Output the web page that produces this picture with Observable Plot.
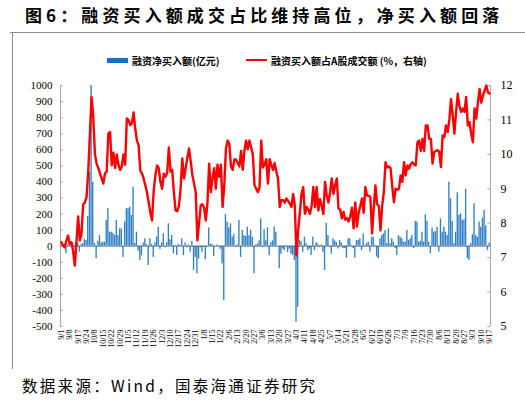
<!DOCTYPE html>
<html>
<head>
<meta charset="utf-8">
<script src="https://cdn.jsdelivr.net/npm/d3@7"></script>
<script src="https://cdn.jsdelivr.net/npm/@observablehq/plot@0.6"></script>
<style>
  html, body { margin: 0; padding: 0; background: #fff; }
  #wrap { position: relative; width: 525px; height: 401px; overflow: hidden; font-family: "Noto Sans CJK SC", sans-serif; }
  #title { position: absolute; left: 25px; top: 2px; font-size: 17px; font-weight: bold; letter-spacing: 4.1px; color: #000; white-space: nowrap; }
  #topline { position: absolute; left: 10px; top: 32px; width: 515px; height: 1px; background: #8c8c8c; }
  #leftline { position: absolute; left: 12px; top: 32px; width: 1px; height: 337px; background: #8c8c8c; }
  #legend { position: absolute; top: 53px; left: 0; width: 525px; font-size: 10px; font-weight: bold; color: #000; }
  .lg { position: absolute; top: 0; white-space: nowrap; display: flex; align-items: center; height: 14px; }
  .sw { display: inline-block; width: 21px; margin-right: 4px; }
  #chart { position: absolute; left: 0; top: 70px; }
  #chart svg text { font-family: "Liberation Serif", serif; }
  #source { position: absolute; left: 22px; top: 374px; font-size: 15.5px; letter-spacing: 2.3px; color: #000; white-space: nowrap; font-family: "Noto Sans CJK SC", sans-serif; }
</style>
</head>
<body>
<div id="wrap">
  <div id="title">图6：融资买入额成交占比维持高位，净买入额回落</div>
  <div id="topline"></div>
  <div id="leftline"></div>
  <div id="legend">
    <div class="lg" style="left:107px"><span class="sw" style="height:5px;background:#1a6fc0"></span>融资净买入额(亿元)</div>
    <div class="lg" style="left:246px"><span class="sw" style="height:2.5px;background:#ff0000"></span>融资买入额占A股成交额 (%，右轴)</div>
  </div>
  <div id="chart"></div>
  <div id="source">数据来源：Wind，国泰海通证券研究</div>
</div>
<script>
// Tick labels (every 5 trading days)
const tickLabels = ["9/1","9/8","9/17","9/24","10/8","10/15","10/22","10/29","11/5","11/12","11/19","11/26","12/3","12/10","12/17","12/24","12/31","1/8","1/15","1/22","2/6","2/13","2/20","2/27","3/6","3/13","3/20","3/27","4/3","4/11","4/18","4/25","5/7","5/14","5/21","5/28","6/5","6/12","6/19","6/26","7/3","7/9","7/16","7/23","7/30","8/6","8/13","8/20","8/27","9/3","9/10","9/17"];

// 融资净买入额 (亿元), daily
const netBuy = [
15,5,10,-47,8,15,5,15,-10,15,
20,-37,10,15,40,35,185,460,1000,398,
17,-78,30,66,20,25,25,160,233,87,
87,80,66,160,66,108,108,-70,150,233,
233,243,191,367,17,87,-30,-89,-60,20,
46,10,-120,46,10,-70,20,56,118,-20,
20,77,-10,20,139,40,66,-47,5,-58,
10,5,46,-58,20,-10,8,-38,30,-151,
-70,-172,-80,-10,-38,-5,-85,-5,114,12,
12,-65,2,8,-5,-20,-110,-338,197,150,
114,139,56,72,-5,8,160,-70,97,66,
60,118,66,100,55,-172,8,12,33,170,
-8,102,33,114,-60,22,33,120,87,2,
-140,-50,-18,-28,-5,-40,-18,-50,-58,-89,
-473,-380,35,30,-38,56,15,-28,-18,-58,
56,-28,22,12,-8,8,-38,-151,143,66,
-5,-50,46,33,22,-18,35,20,-15,-15,
-75,46,46,5,-15,-75,35,35,46,-27,
77,5,15,25,-37,56,56,5,-68,-78,
46,66,77,97,15,108,15,46,25,-15,
-58,66,56,46,25,25,97,35,46,66,
-15,154,150,25,30,87,25,195,154,25,
-47,112,87,91,118,-37,170,87,118,87,
66,398,295,154,15,87,332,191,201,160,
165,353,-78,-89,15,71,264,66,56,150,
118,175,222,125,-27,20
];

// 融资买入额占A股成交额 (%), daily
const ratio = [
7.45,7.35,7.3,7.5,7.64,7.4,7.45,7.2,6.77,7.45,
8.2,7.5,7.7,8.55,8.6,8.75,9.5,10.6,11.66,11.1,
10.0,9.73,9.6,9.45,9.3,9.15,9.45,9.5,10.6,10.65,
9.68,10.05,9.6,10.0,9.7,9.55,9.65,10.0,9.7,11.04,
11.0,10.85,10.9,11.22,10.75,10.4,10.26,9.53,9.45,9.3,
9.1,8.9,8.6,8.3,8.08,8.95,9.4,9.68,9.6,9.2,
9.0,9.44,9.35,9.45,10.2,9.5,9.55,8.9,8.37,8.35,
8.5,9.0,9.88,9.3,9.6,9.9,10.17,9.8,9.4,9.15,
8.9,7.5,8.0,8.52,8.55,8.45,8.08,8.6,9.73,8.9,
9.3,9.6,9.0,9.7,9.35,9.7,8.47,9.1,10.17,10.4,
10.3,9.65,9.55,9.85,9.85,9.75,9.65,10.1,9.55,10.11,
10.4,10.15,10.4,10.2,10.0,9.1,9.0,8.9,9.05,10.4,
9.62,9.7,9.86,9.15,9.86,9.7,9.55,9.75,9.5,9.3,
8.47,8.67,8.67,8.6,8.72,8.65,8.57,8.47,8.85,8.5,
7.06,7.8,8.3,8.85,9.05,8.27,8.47,8.4,8.27,8.5,
9.05,8.47,9.05,8.37,8.7,8.5,8.27,9.2,8.82,8.6,
8.9,9.3,8.85,9.1,9.3,8.43,8.4,8.14,8.33,8.1,
8.15,8.05,8.2,8.45,7.85,8.6,7.9,8.3,8.5,8.72,
8.3,9.05,8.8,8.8,8.75,7.7,8.45,9.1,8.55,8.5,
7.79,8.5,8.9,9.77,9.62,9.65,9.6,9.07,8.61,9.0,
8.97,9.0,9.39,9.2,9.77,9.39,9.68,9.58,9.72,9.77,
9.7,9.68,10.35,10.4,10.1,10.45,10.1,10.84,10.84,10.45,
10.45,9.73,10.07,10.1,10.12,10.07,9.63,10.55,10.5,10.84,
10.65,11.0,11.61,11.13,10.6,11.23,11.76,11.4,11.23,11.33,
11.23,11.67,10.84,10.94,10.6,10.35,11.33,11.04,11.5,11.9,
11.5,11.7,11.85,12.0,11.8,11.77
];

const leftTicks = d3.range(-500, 1001, 100);
const rightTicks = d3.range(5, 13, 1);

const N = netBuy.length;
const idx = d3.range(N);
const LMIN = -500, LMAX = 1000, RMIN = 5, RMAX = 12;
const toLeft = r => (r - RMIN) * (LMAX - LMIN) / (RMAX - RMIN) + LMIN;
const toRight = v => (v - LMIN) * (RMAX - RMIN) / (LMAX - LMIN) + RMIN;
const x0 = -0.5, x1 = N - 0.5;
const serif = "'Liberation Serif', serif";

const chart = Plot.plot({
  width: 525,
  height: 286,
  marginTop: 15,
  marginBottom: 30,
  marginLeft: 60,
  marginRight: 35,
  x: {domain: [x0, x1], axis: null},
  y: {domain: [LMIN, LMAX], axis: null},
  style: {fontFamily: serif, fontSize: "11px", color: "#000", background: "transparent", overflow: "visible"},
  marks: [
    Plot.rectY(idx, {x1: i => i - 0.4, x2: i => i + 0.4, y1: 0, y2: i => netBuy[i], fill: "#2f7fc6"}),
    Plot.ruleY([0], {stroke: "#4a5a6a", strokeWidth: 0.8}),
    Plot.ruleX([x0, x1], {y1: LMIN, y2: LMAX, stroke: "#a6a6a6", strokeWidth: 1}),
    Plot.ruleY(leftTicks, {x1: x0, x2: x0 + 1.6, stroke: "#a6a6a6"}),
    Plot.ruleY(rightTicks.map(toLeft), {x1: x1 - 1.6, x2: x1, stroke: "#a6a6a6"}),
    Plot.lineY(idx, {x: i => i, y: i => toLeft(ratio[i]), stroke: "#ff0000", strokeWidth: 2.4, curve: "linear"}),
    Plot.axisY(leftTicks, {anchor: "left", tickSize: 0, tickPadding: 8, fontFamily: serif, tickFormat: d => String(d)}),
    Plot.axisY(rightTicks.map(toLeft), {anchor: "right", tickSize: 0, tickPadding: 10, fontFamily: serif, fontSize: 12, tickFormat: v => String(Math.round(toRight(v)))}),
    Plot.axisX(d3.range(0, N, 5), {anchor: "bottom", tickSize: 0, tickPadding: 3, tickRotate: -90, fontSize: 8, fontFamily: serif, tickFormat: i => tickLabels[i / 5]})
  ]
});
document.getElementById("chart").appendChild(chart);
</script>
</body>
</html>
